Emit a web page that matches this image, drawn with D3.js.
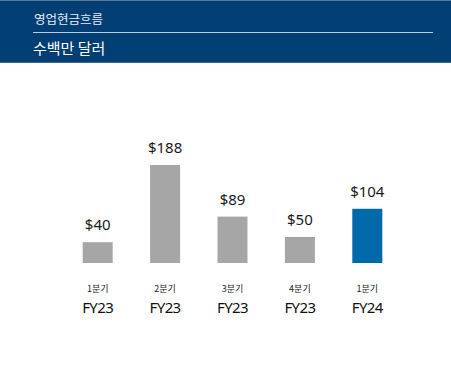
<!DOCTYPE html>
<html><head><meta charset="utf-8">
<script src="https://cdn.jsdelivr.net/npm/d3@7"></script>
<style>
html,body{margin:0;padding:0;background:#fff;}
svg{display:block;}
</style></head>
<body>
<script>
const title = "영업현금흐름";
const subtitle = "수백만 달러";
const quarters = ["1분기","2분기","3분기","4분기","1분기"];
const years = ["FY23","FY23","FY23","FY23","FY24"];
const values = [40, 188, 89, 50, 104];
const valueLabels = ["$40","$188","$89","$50","$104"];
const highlight = [false,false,false,false,true];

const W = 451, H = 377;
const svg = d3.select("body").append("svg").attr("width", W).attr("height", H);
svg.append("rect").attr("x",0).attr("y",0).attr("width",W).attr("height",H).attr("fill","#fff");

// header
svg.append("rect").attr("x",0).attr("y",0).attr("width",W).attr("height",63).attr("fill","#003e74");
svg.append("rect").attr("x",0).attr("y",0).attr("width",W).attr("height",1).attr("fill","#5a7896");
svg.append("rect").attr("x",0).attr("y",62).attr("width",W).attr("height",1).attr("fill","#3e6a94");
svg.append("line").attr("x1",33).attr("x2",433).attr("y1",32.5).attr("y2",32.5)
  .attr("stroke","#b9cde0").attr("stroke-width",1.2);
svg.append("text").attr("x",34).attr("y",24).text(title)
  .attr("font-family","'Noto Sans CJK KR', sans-serif").attr("font-size",12.5).attr("fill","#e6edf4");
svg.append("text").attr("x",33).attr("y",54).text(subtitle)
  .attr("font-family","'Noto Sans CJK KR', sans-serif").attr("font-size",15).attr("fill","#ffffff");

const idx = values.map((d,i)=>i);
const x = d3.scaleBand().domain(idx).range([49, 416]).paddingInner(0.555).paddingOuter(0.5);
const y = d3.scaleLinear().domain([0, 188]).range([263, 165]);

const g = svg.append("g");
g.selectAll("rect.bar").data(idx).join("rect").attr("class","bar")
  .attr("x", i => x(i)).attr("width", x.bandwidth())
  .attr("y", i => y(values[i])).attr("height", i => y(0) - y(values[i]))
  .attr("fill", i => highlight[i] ? "#0069aa" : "#a6a6a6");

g.selectAll("text.val").data(idx).join("text").attr("class","val")
  .attr("x", i => x(i) + x.bandwidth()/2).attr("y", i => y(values[i]) - 12)
  .attr("text-anchor","middle").text(i => valueLabels[i])
  .attr("font-family","'Noto Sans', sans-serif").attr("font-size",15).attr("fill","#1a1a1a");

g.selectAll("text.q").data(idx).join("text").attr("class","q")
  .attr("x", i => x(i) + x.bandwidth()/2).attr("y", 292)
  .attr("text-anchor","middle").text(i => quarters[i])
  .attr("font-family","'Noto Sans CJK KR', sans-serif").attr("font-size",9).attr("fill","#222");

g.selectAll("text.fy").data(idx).join("text").attr("class","fy")
  .attr("x", i => x(i) + x.bandwidth()/2).attr("y", 313)
  .attr("text-anchor","middle").text(i => years[i])
  .attr("font-family","'Noto Sans', sans-serif").attr("font-size",15).attr("letter-spacing","-0.6")
  .attr("fill","#111");
</script>
</body></html>
